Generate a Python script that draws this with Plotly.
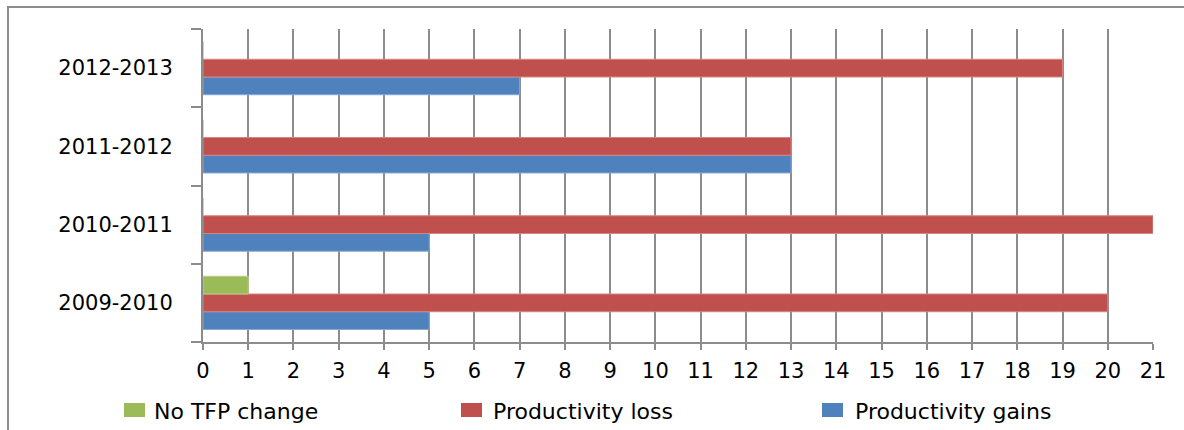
import plotly.graph_objects as go

# Period categories (bottom to top) and counts per TFP outcome
periods = ["2009-2010", "2010-2011", "2011-2012", "2012-2013"]
productivity_gains = [5, 5, 13, 7]
productivity_loss = [20, 21, 13, 19]
no_tfp_change = [1, 0, 0, 0]
x_ticks = list(range(0, 22))

series_names = ["No TFP change", "Productivity loss", "Productivity gains"]
series_colors = ["#9BBB59", "#C0504D", "#4F81BD"]
series_edges = ["#B7CF85", "#D48683", "#86A7D2"]

W, H = 1184, 430
L, R, T, B = 203, 31, 29, 88
pw, ph = W - L - R, H - T - B

fig = go.Figure()
# Grouped bars: first trace sits at the bottom of each group
for name, vals, col, edge in [
    (series_names[2], productivity_gains, series_colors[2], series_edges[2]),
    (series_names[1], productivity_loss, series_colors[1], series_edges[1]),
    (series_names[0], no_tfp_change, series_colors[0], series_edges[0]),
]:
    fig.add_trace(go.Bar(
        y=periods, x=vals, name=name, orientation="h",
        marker=dict(color=col, line=dict(color=edge, width=1)),
        showlegend=False,
    ))

FONT = "DejaVu Sans"
FS = 21

def px_x(p):
    return (p - L) / pw

def px_y(p):
    return (H - B - p) / ph

shapes = [
    # outer chart frame
    dict(type="rect", xref="paper", yref="paper",
         x0=px_x(8), x1=px_x(W + 20), y0=px_y(H + 20), y1=px_y(7),
         line=dict(color="#8C8C8C", width=2), fillcolor="rgba(0,0,0,0)", layer="below"),
]
annotations = []
legend_pos = [124, 461, 822]
text_pos = [152, 491, 853]
for name, col, x0, tx in zip(series_names, series_colors, legend_pos, text_pos):
    shapes.append(dict(type="rect", xref="paper", yref="paper",
                       x0=px_x(x0), x1=px_x(x0 + 21), y0=px_y(417), y1=px_y(403),
                       line=dict(width=0), fillcolor=col))
    annotations.append(dict(xref="paper", yref="paper", x=px_x(tx), y=px_y(411),
                            text=name, showarrow=False, xanchor="left", yanchor="middle",
                            font=dict(family=FONT, size=22, color="black")))

fig.update_layout(
    width=W, height=H,
    margin=dict(l=L, r=R, t=T, b=B, pad=0),
    barmode="group", bargap=0.32, bargroupgap=0,
    paper_bgcolor="white", plot_bgcolor="white",
    font=dict(family=FONT, size=FS, color="black"),
    shapes=shapes, annotations=annotations,
    xaxis=dict(
        range=[0, 21], tickvals=x_ticks, ticktext=[str(v) for v in x_ticks],
        showgrid=True, gridcolor="#8C8C8C", gridwidth=2,
        showline=True, linecolor="#8C8C8C", linewidth=2,
        ticks="outside", ticklen=6, tickcolor="#8C8C8C", tickwidth=2,
        ticklabelstandoff=3, zeroline=False,
        tickfont=dict(family=FONT, size=FS, color="black"),
    ),
    yaxis=dict(
        categoryorder="array", categoryarray=periods,
        showgrid=False, showline=True, linecolor="#8C8C8C", linewidth=2,
        ticks="outside", tickson="boundaries", ticklen=10, tickcolor="#8C8C8C", tickwidth=2,
        ticklabelstandoff=24,
        tickfont=dict(family=FONT, size=FS, color="black"),
    ),
)

fig.write_html("out.html")
